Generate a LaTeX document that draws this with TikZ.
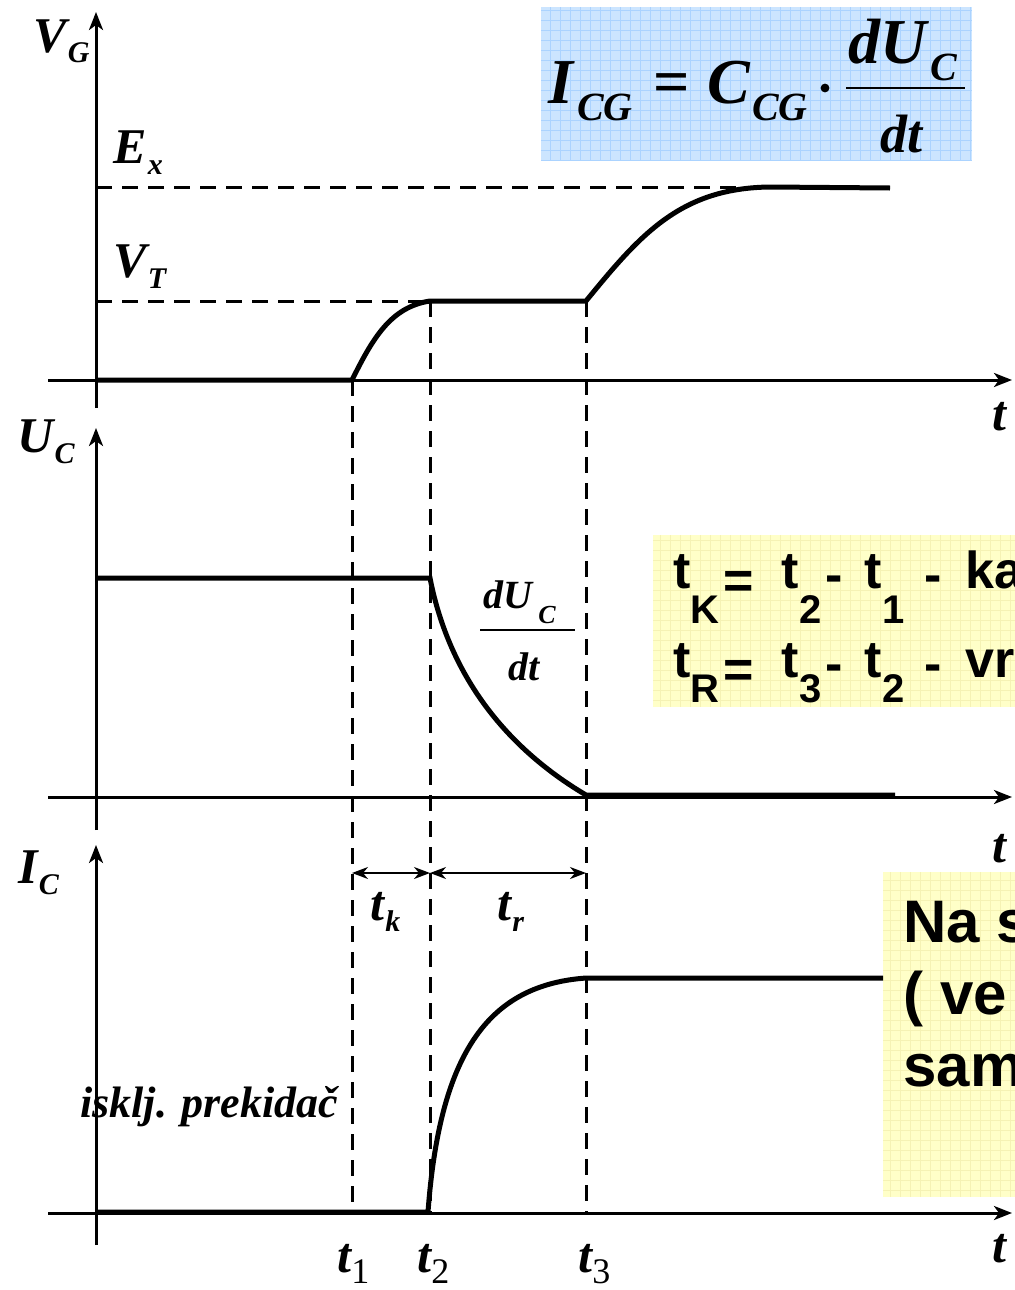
\documentclass[tikz,border=0pt]{standalone}
\usepackage{fontspec}
\setmainfont{Liberation Serif}
\newfontfamily\arialfont{Liberation Sans}
\usetikzlibrary{arrows.meta}
\definecolor{formula_blue}{HTML}{CCE5FF}
\definecolor{formula_grid}{HTML}{ABD3FF}
\definecolor{note_yellow}{HTML}{FFFFC8}
\definecolor{note_grid}{HTML}{F5F2B4}
\newcommand{\lsub}[2]{#1\kern0.5pt\raisebox{-5.5pt}{\fontsize{15}{15}\selectfont #2}}
\newcommand{\tnum}[1]{t\raisebox{-5.5pt}{\fontsize{18}{18}\selectfont\upshape\mdseries #1}}
\newcommand{\aup}[1]{\raisebox{5pt}{#1}}
\newcommand{\asub}[2][12.5pt]{\raisebox{-#1}{\fontsize{20}{20}\selectfont #2}}
\newcommand{\defline}[5]{\aup{t}\asub[#5]{#1}\kern2pt=\kern14pt\aup{t}\asub[#5]{#2}\kern2pt\raisebox{3pt}{-}\kern11pt\aup{t}\asub[#5]{#3}\kern10pt\raisebox{3pt}{-}\kern12pt\aup{#4}}

\begin{document}
\begin{tikzpicture}[x=0.5pt, y=-0.5pt,
  axis_line/.style={line width=1.5pt, -{Stealth[length=9pt, width=7pt, inset=2.5pt]}},
  wave/.style={line width=2.5pt},
  guide/.style={line width=1.5pt, dash pattern=on 8pt off 5pt},
  dim_arrow/.style={line width=0.8pt, {Stealth[length=8pt, width=6pt, inset=2.5pt]}-{Stealth[length=8pt, width=6pt, inset=2.5pt]}},
  sig_label/.style={inner sep=0pt, anchor=base west, font=\fontsize{25}{25}\selectfont\bfseries\itshape},
  note_text/.style={inner sep=0pt, anchor=base west, font=\arialfont\bfseries\fontsize{26}{26}\selectfont}]
\useasboundingbox (0,0) rectangle (1015,1290);
\clip (0,0) rectangle (1015,1290);

\fill[formula_blue] (541,7) rectangle (972,160);
\draw[formula_grid, line width=0.4pt, step=5pt] (541,160) grid (972,7);
\fill[note_yellow] (653,535) rectangle (1015,707);
\draw[note_grid, line width=0.4pt, step=5pt] (653,707) grid (1015,535);
\fill[note_yellow] (883,872) rectangle (1015,1197);
\draw[note_grid, line width=0.4pt, step=5pt] (883,1197) grid (1015,872);

\coordinate (o1) at (96,380);
\coordinate (o2) at (96,578);
\coordinate (o3) at (96,1212);
\coordinate (a1) at (352,380);
\coordinate (b1) at (430,301);
\coordinate (c1) at (586,301);
\coordinate (b2) at (430,578);
\coordinate (c2) at (586,795);
\coordinate (b3) at (428,1212);
\coordinate (c3) at (586,978);
\coordinate (ex) at (96,187);
\coordinate (vt) at (96,301);
\coordinate (a_bot) at (352,1213);
\coordinate (b_bot) at (430,1213);
\coordinate (c_bot) at (586,1213);
\coordinate (k1) at (352,873);
\coordinate (k2) at (430,873);
\coordinate (k3) at (586,873);

\draw[axis_line] (96,408) -- (96,12);
\draw[axis_line] (48,380) -- (1012,380);
\draw[axis_line] (96,830) -- (96,428);
\draw[axis_line] (48,797) -- (1012,797);
\draw[axis_line] (96,1245) -- (96,845);
\draw[axis_line] (48,1213) -- (1012,1213);

\draw[guide] (ex) -- (860,187);
\draw[guide] (vt) -- (b1);
\draw[guide] (a1) -- (a_bot);
\draw[guide] (b1) -- (b_bot);
\draw[guide] (c1) -- (c_bot);

\draw[wave] (o1) -- (a1) .. controls (372,340) and (390,307) .. (b1) -- (c1) .. controls (640,235) and (680,188) .. (770,187) -- (890,188);
\draw[wave] (o2) -- (b2) .. controls (450,680) and (510,750) .. (c2) -- (895,795);
\draw[wave] (o3) -- (b3) .. controls (440,1050) and (490,985) .. (c3) -- (883,978);

\draw[dim_arrow] (k1) -- (k2);
\draw[dim_arrow] (k2) -- (k3);

\node[sig_label] (vg) at (33,52) {\lsub{V}{G}};
\node[sig_label] (ex_lab) at (113,163) {\lsub{E}{x}};
\node[sig_label] (vt_lab) at (113,277) {\lsub{V}{T}};
\node[sig_label] (uc) at (17,452) {\lsub{U}{C}};
\node[sig_label] (ic) at (18,883) {\lsub{I}{C}};
\node[sig_label] (t_a) at (992,430) {t};
\node[sig_label] (t_b) at (992,862) {t};
\node[sig_label] (t_c) at (992,1262) {t};
\node[sig_label] (t1) at (337,1272) {\tnum{1}};
\node[sig_label] (t2) at (417,1272) {\tnum{2}};
\node[sig_label] (t3) at (578,1272) {\tnum{3}};
\node[sig_label] (tk) at (370,920) {\lsub{t}{k}};
\node[sig_label] (tr) at (497,920) {\lsub{t}{r}};
\node[sig_label, font=\fontsize{22}{22}\selectfont\bfseries\itshape] (sw) at (80,1117) {isklj. prekidač};

\node[sig_label, font=\fontsize{20}{20}\selectfont\bfseries\itshape] (num2) at (483,608) {dU\kern3pt\raisebox{-7.5pt}{\fontsize{13}{13}\selectfont C}};
\draw[line width=0.7pt] (480,630) -- (575,630);
\node[sig_label, font=\fontsize{20}{20}\selectfont\bfseries\itshape] (den2) at (508,680) {dt};

\node[sig_label, font=\fontsize{32}{32}\selectfont\bfseries\itshape] (icg) at (548,103) {I\kern2pt\raisebox{-8.5pt}{\fontsize{20}{20}\selectfont CG}};
\node[sig_label, font=\fontsize{32}{32}\selectfont\bfseries] (eq) at (653,103) {=};
\node[sig_label, font=\fontsize{32}{32}\selectfont\bfseries\itshape] (ccg) at (707,103) {C\kern1pt\raisebox{-8.5pt}{\fontsize{20}{20}\selectfont CG}};
\fill (825,88) circle[radius=2.2pt];
\node[sig_label, font=\fontsize{32}{32}\selectfont\bfseries\itshape] (num1) at (848,63) {dU\kern2pt\raisebox{-8.5pt}{\fontsize{20}{20}\selectfont C}};
\draw[line width=1pt] (846,88) -- (965,88);
\node[sig_label, font=\fontsize{27}{27}\selectfont\bfseries\itshape] (den1) at (880,152) {dt};

\node[note_text] (tk_def) at (673,598) {\defline{K}{2}{1}{ka}{12.5pt}};
\node[note_text] (tr_def) at (673,687) {\defline{R}{3}{2}{vr}{7.5pt}};
\node[note_text, font=\arialfont\bfseries\fontsize{30}{36}\selectfont, align=left] (na) at (903,1086) {Na s\\( ve\\sam};
\end{tikzpicture}
\end{document}
